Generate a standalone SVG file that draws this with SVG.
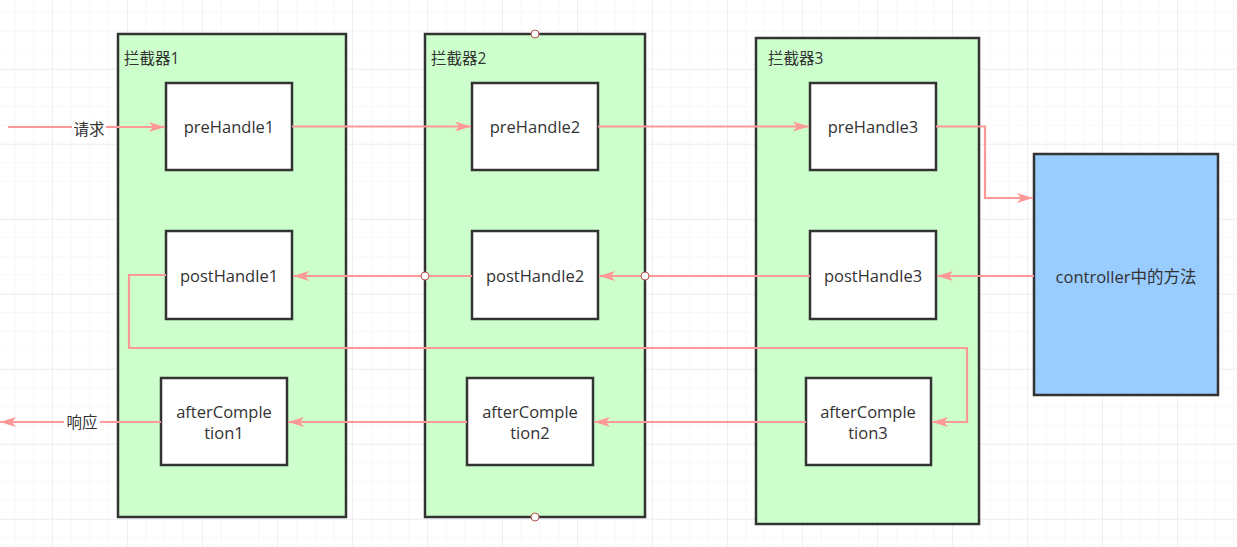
<svg xmlns="http://www.w3.org/2000/svg" width="1237" height="547" viewBox="0 0 1237 547">
<defs>
<pattern id="minor" x="14.5" y="12" width="18.75" height="18.75" patternUnits="userSpaceOnUse">
<path d="M0 0H18.75M0 0V18.75" fill="none" stroke="#f2f2f2" stroke-width="1"/>
</pattern>
<pattern id="major" x="52" y="69" width="75" height="75" patternUnits="userSpaceOnUse">
<path d="M0 0H75M0 0V75" fill="none" stroke="#e6e6e6" stroke-width="1"/>
</pattern>
<marker id="arr" viewBox="0 0 16 10" refX="16" refY="5" markerWidth="16" markerHeight="11" markerUnits="userSpaceOnUse" orient="auto">
<path d="M0 0L16 5L0 10L4 5Z" fill="#ff9999"/>
</marker>
</defs>
<style>
.outer{fill:#ccffcc;stroke:#333;stroke-width:2.5}
.inner{fill:#fff;stroke:#333;stroke-width:2.5}
.ctrl{fill:#99ccff;stroke:#333;stroke-width:2.5}
.t{font-family:"Open Sans","Noto Sans CJK SC",sans-serif;font-size:16.5px;fill:#333;text-anchor:middle}
.lbl{font-family:"Open Sans","Noto Sans CJK SC",sans-serif;font-size:15.5px;fill:#333}
.c{fill:none;stroke:#ff9999;stroke-width:2}
.ca{fill:none;stroke:#ff9999;stroke-width:2.2;marker-end:url(#arr)}
.dot{fill:#fff;stroke:#b85450;stroke-width:1}
</style>
<rect width="1237" height="547" fill="#fff"/>
<rect width="1237" height="547" fill="url(#minor)"/>
<rect width="1237" height="547" fill="url(#major)"/>

<g id="interceptor1">
<rect class="outer" x="118" y="34" width="228" height="483"/>
<text class="lbl" x="124" y="64">拦截器1</text>
</g>
<g id="interceptor2">
<rect class="outer" x="425" y="34" width="220" height="483"/>
<text class="lbl" x="431" y="64">拦截器2</text>
</g>
<g id="interceptor3">
<rect class="outer" x="756" y="38" width="223" height="486"/>
<text class="lbl" x="768" y="64">拦截器3</text>
</g>
<g id="controller">
<rect class="ctrl" x="1034" y="154" width="184" height="241"/>
<text class="t" x="1126" y="283">controller中的方法</text>
</g>

<g id="preHandle1"><rect class="inner" x="166" y="83" width="126" height="87"/><text class="t" x="229" y="133">preHandle1</text></g>
<g id="preHandle2"><rect class="inner" x="472" y="83" width="126" height="87"/><text class="t" x="535" y="133">preHandle2</text></g>
<g id="preHandle3"><rect class="inner" x="810" y="83" width="126" height="87"/><text class="t" x="873" y="133">preHandle3</text></g>
<g id="postHandle1"><rect class="inner" x="166" y="231" width="126" height="88"/><text class="t" x="229" y="282">postHandle1</text></g>
<g id="postHandle2"><rect class="inner" x="472" y="231" width="126" height="88"/><text class="t" x="535" y="282">postHandle2</text></g>
<g id="postHandle3"><rect class="inner" x="810" y="231" width="126" height="88"/><text class="t" x="873" y="282">postHandle3</text></g>
<g id="afterCompletion1"><rect class="inner" x="161" y="378" width="126" height="87"/><text class="t" x="224" y="418">afterComple</text><text class="t" x="224" y="439">tion1</text></g>
<g id="afterCompletion2"><rect class="inner" x="467" y="378" width="126" height="87"/><text class="t" x="530" y="418">afterComple</text><text class="t" x="530" y="439">tion2</text></g>
<g id="afterCompletion3"><rect class="inner" x="806" y="378" width="125" height="87"/><text class="t" x="868" y="418">afterComple</text><text class="t" x="868" y="439">tion3</text></g>

<g id="connectors">
<path class="ca" d="M8 127H165"/>
<rect x="72" y="118" width="34" height="18" fill="#fff"/>
<text class="lbl" x="89" y="135" text-anchor="middle">请求</text>
<path class="ca" d="M292 126.5H471"/>
<path class="ca" d="M598 126.5H809"/>
<path class="ca" d="M936 126.5H985V198H1033"/>
<path class="ca" d="M1034 276H937"/>
<path class="ca" d="M810 276H599"/>
<path class="ca" d="M472 276H293"/>
<path class="ca" d="M166 275H129V348H967V422H932"/>
<path class="ca" d="M806 422H594"/>
<path class="ca" d="M467 422H288"/>
<path class="ca" d="M161 422H0"/>
<rect x="64" y="413" width="36" height="18" fill="#fff"/>
<text class="lbl" x="82" y="428" text-anchor="middle">响应</text>
<circle class="dot" cx="535" cy="34" r="4"/>
<circle class="dot" cx="535" cy="517" r="4"/>
<circle class="dot" cx="425" cy="276" r="4"/>
<circle class="dot" cx="645" cy="276" r="4"/>
</g>
</svg>
